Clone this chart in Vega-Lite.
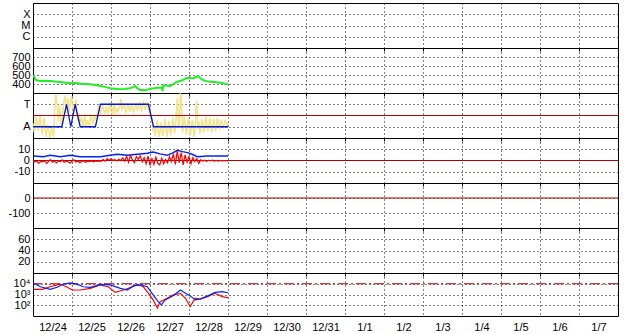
{
  "$schema": "https://vega.github.io/schema/vega-lite/v6.json",
  "padding": {"left": 7, "top": 2, "right": 0, "bottom": 0},
  "background": "white",
  "spacing": 0,
  "bounds": "flush",
  "config": {
    "font": "Liberation Sans",
    "view": {"stroke": "#000", "strokeWidth": 1},
    "axis": {
      "labelFont": "Liberation Sans", "labelFontSize": 11, "labelColor": "#000",
      "title": null, "domain": false, "ticks": false, "grid": true,
      "gridColor": "#000", "gridDash": [1, 3], "gridOpacity": 1, "gridWidth": 1,
      "labelOverlap": false, "labelPadding": 3, "labelBound": false, "labelFlush": false
    }
  },
  "resolve": {"scale": {"x": "independent", "y": "independent"}},
  "datasets": {
    "green": [
      {"t":0.01,"v":500},{"t":0.06,"v":448},{"t":0.12,"v":438},{"t":0.19,"v":433},{"t":0.3,"v":436},{"t":0.44,"v":433},{"t":0.55,"v":428},{"t":0.7,"v":422},{"t":0.85,"v":414},{"t":0.96,"v":408},{"t":1.1,"v":410},{"t":1.21,"v":403},{"t":1.35,"v":400},{"t":1.47,"v":396},{"t":1.6,"v":390},{"t":1.73,"v":378},{"t":1.85,"v":368},{"t":1.98,"v":352},{"t":2.1,"v":348},{"t":2.24,"v":341},{"t":2.35,"v":345},{"t":2.49,"v":352},{"t":2.58,"v":368},{"t":2.62,"v":378},{"t":2.68,"v":350},{"t":2.75,"v":333},{"t":2.88,"v":330},{"t":2.95,"v":340},{"t":3.0,"v":348},{"t":3.1,"v":352},{"t":3.19,"v":359},{"t":3.3,"v":362},{"t":3.32,"v":322},{"t":3.34,"v":385},{"t":3.45,"v":380},{"t":3.52,"v":378},{"t":3.6,"v":400},{"t":3.65,"v":415},{"t":3.75,"v":430},{"t":3.83,"v":441},{"t":3.9,"v":460},{"t":3.96,"v":470},{"t":4.05,"v":465},{"t":4.11,"v":463},{"t":4.18,"v":478},{"t":4.24,"v":489},{"t":4.3,"v":460},{"t":4.37,"v":441},{"t":4.45,"v":432},{"t":4.55,"v":426},{"t":4.7,"v":420},{"t":4.81,"v":415},{"t":4.9,"v":405},{"t":5.0,"v":396}
    ],
    "taBlue": [
      {"t":0,"v":1},{"t":0.74,"v":1},{"t":0.86,"v":3},{"t":0.97,"v":1},{"t":1.08,"v":3},{"t":1.21,"v":1},{"t":1.6,"v":1},{"t":1.73,"v":3},{"t":2.96,"v":3},{"t":3.09,"v":1},{"t":5.0,"v":1}
    ],
    "taYellow": [
      {"t":0.0,"v":1.3},{"t":0.03,"v":0.5},{"t":0.05,"v":0.9},{"t":0.08,"v":1.9},{"t":0.1,"v":1.6},{"t":0.13,"v":0.6},{"t":0.15,"v":1.1},{"t":0.18,"v":2.0},{"t":0.2,"v":1.4},{"t":0.23,"v":0.3},{"t":0.25,"v":0.7},{"t":0.28,"v":1.8},{"t":0.3,"v":1.2},{"t":0.33,"v":0.1},{"t":0.35,"v":0.4},{"t":0.38,"v":1.2},{"t":0.4,"v":0.8},{"t":0.43,"v":0.0},{"t":0.45,"v":0.2},{"t":0.48,"v":1.0},{"t":0.5,"v":0.6},{"t":0.53,"v":0.1},{"t":0.55,"v":1.9},{"t":0.58,"v":3.9},{"t":0.6,"v":3.6},{"t":0.63,"v":2.4},{"t":0.65,"v":1.5},{"t":0.68,"v":2.9},{"t":0.7,"v":2.1},{"t":0.73,"v":1.2},{"t":0.75,"v":1.6},{"t":0.78,"v":2.8},{"t":0.8,"v":3.3},{"t":0.83,"v":3.8},{"t":0.85,"v":2.6},{"t":0.88,"v":3.1},{"t":0.9,"v":3.5},{"t":0.93,"v":2.3},{"t":0.95,"v":2.8},{"t":0.98,"v":3.7},{"t":1.0,"v":3.2},{"t":1.03,"v":2.6},{"t":1.05,"v":2.2},{"t":1.08,"v":3.0},{"t":1.1,"v":3.4},{"t":1.13,"v":2.1},{"t":1.15,"v":1.5},{"t":1.18,"v":2.2},{"t":1.2,"v":1.2},{"t":1.23,"v":1.7},{"t":1.25,"v":1.8},{"t":1.28,"v":1.0},{"t":1.3,"v":1.4},{"t":1.33,"v":2.0},{"t":1.35,"v":0.9},{"t":1.38,"v":1.3},{"t":1.4,"v":1.6},{"t":1.43,"v":1.1},{"t":1.45,"v":1.3},{"t":1.48,"v":2.1},{"t":1.5,"v":1.9},{"t":1.53,"v":1.2},{"t":1.55,"v":1.4},{"t":1.58,"v":2.0},{"t":1.6,"v":1.7},{"t":1.63,"v":1.9},{"t":1.65,"v":2.3},{"t":1.68,"v":2.9},{"t":1.7,"v":2.6},{"t":1.73,"v":2.2},{"t":1.75,"v":2.4},{"t":1.78,"v":3.0},{"t":1.8,"v":2.7},{"t":1.83,"v":2.2},{"t":1.85,"v":2.3},{"t":1.88,"v":2.8},{"t":1.9,"v":2.5},{"t":1.93,"v":2.2},{"t":1.95,"v":2.8},{"t":1.98,"v":3.1},{"t":2.0,"v":2.4},{"t":2.03,"v":2.1},{"t":2.05,"v":2.6},{"t":2.08,"v":3.0},{"t":2.1,"v":2.2},{"t":2.13,"v":2.4},{"t":2.15,"v":2.7},{"t":2.18,"v":2.3},{"t":2.2,"v":2.5},{"t":2.23,"v":2.9},{"t":2.25,"v":3.5},{"t":2.28,"v":2.5},{"t":2.3,"v":2.6},{"t":2.33,"v":3.0},{"t":2.35,"v":2.8},{"t":2.38,"v":2.2},{"t":2.4,"v":2.4},{"t":2.43,"v":3.1},{"t":2.45,"v":2.9},{"t":2.48,"v":2.3},{"t":2.5,"v":2.6},{"t":2.53,"v":3.0},{"t":2.55,"v":2.7},{"t":2.58,"v":2.3},{"t":2.6,"v":2.5},{"t":2.63,"v":2.9},{"t":2.65,"v":3.0},{"t":2.68,"v":2.4},{"t":2.7,"v":2.7},{"t":2.73,"v":3.2},{"t":2.75,"v":2.9},{"t":2.78,"v":2.4},{"t":2.8,"v":2.6},{"t":2.83,"v":3.3},{"t":2.85,"v":3.1},{"t":2.88,"v":2.5},{"t":2.9,"v":2.7},{"t":2.93,"v":3.2},{"t":2.95,"v":2.9},{"t":2.98,"v":2.2},{"t":3.0,"v":2.5},{"t":3.03,"v":1.4},{"t":3.05,"v":1.8},{"t":3.08,"v":0.6},{"t":3.1,"v":1.0},{"t":3.13,"v":0.2},{"t":3.15,"v":0.5},{"t":3.18,"v":1.6},{"t":3.2,"v":1.2},{"t":3.23,"v":0.1},{"t":3.25,"v":0.3},{"t":3.28,"v":1.4},{"t":3.3,"v":0.9},{"t":3.33,"v":0.2},{"t":3.35,"v":0.6},{"t":3.38,"v":1.7},{"t":3.4,"v":1.3},{"t":3.43,"v":0.1},{"t":3.45,"v":0.4},{"t":3.48,"v":1.5},{"t":3.5,"v":1.0},{"t":3.53,"v":0.3},{"t":3.55,"v":0.7},{"t":3.58,"v":1.8},{"t":3.6,"v":1.4},{"t":3.63,"v":0.4},{"t":3.65,"v":0.8},{"t":3.68,"v":2.5},{"t":3.7,"v":3.6},{"t":3.73,"v":0.9},{"t":3.75,"v":1.2},{"t":3.78,"v":3.9},{"t":3.8,"v":3.8},{"t":3.83,"v":0.5},{"t":3.85,"v":0.9},{"t":3.88,"v":1.9},{"t":3.9,"v":1.5},{"t":3.93,"v":0.3},{"t":3.95,"v":0.8},{"t":3.98,"v":1.8},{"t":4.0,"v":1.3},{"t":4.03,"v":0.2},{"t":4.05,"v":0.6},{"t":4.08,"v":1.6},{"t":4.1,"v":1.1},{"t":4.13,"v":0.1},{"t":4.15,"v":0.4},{"t":4.18,"v":2.6},{"t":4.2,"v":3.3},{"t":4.23,"v":0.8},{"t":4.25,"v":1.5},{"t":4.28,"v":0.4},{"t":4.3,"v":0.7},{"t":4.33,"v":1.7},{"t":4.35,"v":1.2},{"t":4.38,"v":0.5},{"t":4.4,"v":0.9},{"t":4.43,"v":1.9},{"t":4.45,"v":1.6},{"t":4.48,"v":0.6},{"t":4.5,"v":1.0},{"t":4.53,"v":1.8},{"t":4.55,"v":1.4},{"t":4.58,"v":0.5},{"t":4.6,"v":0.8},{"t":4.63,"v":1.7},{"t":4.65,"v":1.3},{"t":4.68,"v":0.6},{"t":4.7,"v":1.0},{"t":4.73,"v":1.8},{"t":4.75,"v":1.5},{"t":4.78,"v":0.8},{"t":4.8,"v":1.1},{"t":4.83,"v":1.6},{"t":4.85,"v":1.3},{"t":4.88,"v":1.0},{"t":4.9,"v":1.2},{"t":4.93,"v":1.6},{"t":4.95,"v":1.4},{"t":4.98,"v":1.1},{"t":5.0,"v":1.3}
    ],
    "bBlue": [
      {"t":0.015,"v":4.0},{"t":0.26,"v":3.4},{"t":0.44,"v":4.6},{"t":0.7,"v":3.4},{"t":0.96,"v":4.6},{"t":1.21,"v":3.4},{"t":1.47,"v":3.4},{"t":1.73,"v":3.4},{"t":1.98,"v":4.6},{"t":2.16,"v":5.5},{"t":2.42,"v":4.6},{"t":2.67,"v":5.5},{"t":2.93,"v":6.4},{"t":3.08,"v":7.5},{"t":3.26,"v":5.9},{"t":3.44,"v":4.6},{"t":3.6,"v":7.0},{"t":3.7,"v":9.0},{"t":3.83,"v":7.9},{"t":3.96,"v":7.0},{"t":4.08,"v":5.5},{"t":4.21,"v":3.4},{"t":4.47,"v":4.0},{"t":4.73,"v":4.0},{"t":5.0,"v":4.0}
    ],
    "bRed": [
      {"t":0.0,"v":-0.5},{"t":0.05,"v":-1.2},{"t":0.1,"v":-0.6},{"t":0.15,"v":-2.3},{"t":0.2,"v":-0.8},{"t":0.25,"v":-1.0},{"t":0.3,"v":-0.4},{"t":0.35,"v":-2.6},{"t":0.4,"v":-0.7},{"t":0.45,"v":0.8},{"t":0.5,"v":-1.5},{"t":0.55,"v":-0.6},{"t":0.6,"v":-2.2},{"t":0.65,"v":-0.3},{"t":0.7,"v":-1.0},{"t":0.75,"v":0.5},{"t":0.8,"v":-1.8},{"t":0.85,"v":-0.5},{"t":0.9,"v":-1.1},{"t":0.95,"v":-2.4},{"t":1.0,"v":-0.6},{"t":1.05,"v":0.6},{"t":1.1,"v":-1.3},{"t":1.15,"v":-0.5},{"t":1.2,"v":-2.0},{"t":1.25,"v":-0.8},{"t":1.3,"v":-0.4},{"t":1.35,"v":-1.6},{"t":1.4,"v":-0.6},{"t":1.45,"v":-0.9},{"t":1.5,"v":-0.3},{"t":1.55,"v":-1.2},{"t":1.6,"v":-0.5},{"t":1.65,"v":-0.8},{"t":1.7,"v":-0.4},{"t":1.75,"v":-0.7},{"t":1.8,"v":0.9},{"t":1.85,"v":-0.5},{"t":1.9,"v":1.6},{"t":1.95,"v":0.2},{"t":2.0,"v":1.4},{"t":2.05,"v":0.3},{"t":2.1,"v":0.8},{"t":2.15,"v":-0.4},{"t":2.2,"v":1.2},{"t":2.25,"v":0.1},{"t":2.3,"v":2.4},{"t":2.35,"v":-0.6},{"t":2.4,"v":3.8},{"t":2.45,"v":-1.5},{"t":2.5,"v":4.6},{"t":2.55,"v":0.5},{"t":2.6,"v":-2.0},{"t":2.65,"v":3.4},{"t":2.7,"v":1.0},{"t":2.75,"v":4.2},{"t":2.8,"v":-1.2},{"t":2.85,"v":2.5},{"t":2.9,"v":-3.0},{"t":2.95,"v":4.0},{"t":3.0,"v":-4.3},{"t":3.05,"v":1.5},{"t":3.1,"v":-3.5},{"t":3.15,"v":3.0},{"t":3.2,"v":-2.5},{"t":3.25,"v":-4.0},{"t":3.3,"v":2.0},{"t":3.35,"v":-3.0},{"t":3.4,"v":0.8},{"t":3.45,"v":-2.0},{"t":3.5,"v":3.5},{"t":3.55,"v":-1.0},{"t":3.6,"v":6.0},{"t":3.65,"v":-3.5},{"t":3.7,"v":8.5},{"t":3.75,"v":-2.0},{"t":3.8,"v":7.0},{"t":3.85,"v":-4.0},{"t":3.9,"v":5.0},{"t":3.95,"v":-1.5},{"t":4.0,"v":3.5},{"t":4.05,"v":-3.0},{"t":4.1,"v":2.5},{"t":4.15,"v":-1.0},{"t":4.2,"v":1.5},{"t":4.25,"v":-2.5},{"t":4.3,"v":0.5},{"t":4.35,"v":-0.5},{"t":4.4,"v":0.3},{"t":4.45,"v":-0.8},{"t":4.5,"v":0.2},{"t":4.55,"v":-0.3},{"t":4.6,"v":0.4},{"t":4.65,"v":-0.5},{"t":4.7,"v":0.1},{"t":4.75,"v":-0.6},{"t":4.8,"v":0.2},{"t":4.85,"v":-0.4},{"t":4.9,"v":0.0},{"t":4.95,"v":-0.3},{"t":5.0,"v":-0.2}
    ],
    "logBlue": [
      {"t":0.015,"v":10965},{"t":0.19,"v":5248},{"t":0.44,"v":3020},{"t":0.62,"v":4677},{"t":0.78,"v":9333},{"t":0.96,"v":12303},{"t":1.14,"v":8710},{"t":1.29,"v":5248},{"t":1.47,"v":4677},{"t":1.73,"v":8710},{"t":1.98,"v":7943},{"t":2.24,"v":3715},{"t":2.42,"v":2630},{"t":2.57,"v":6310},{"t":2.75,"v":7943},{"t":2.93,"v":5248},{"t":3.08,"v":912},{"t":3.21,"v":219},{"t":3.29,"v":110},{"t":3.39,"v":316},{"t":3.6,"v":794},{"t":3.78,"v":2630},{"t":3.91,"v":1288},{"t":4.03,"v":741},{"t":4.16,"v":316},{"t":4.29,"v":398},{"t":4.47,"v":708},{"t":4.67,"v":1585},{"t":4.85,"v":1820},{"t":5.0,"v":1445}
    ],
    "logRed": [
      {"t":0.015,"v":3020},{"t":0.24,"v":3020},{"t":0.44,"v":5248},{"t":0.7,"v":9333},{"t":0.88,"v":4677},{"t":1.01,"v":2630},{"t":1.21,"v":2630},{"t":1.47,"v":3715},{"t":1.73,"v":7586},{"t":1.93,"v":5248},{"t":2.11,"v":1585},{"t":2.32,"v":2630},{"t":2.55,"v":5248},{"t":2.68,"v":8710},{"t":2.83,"v":5248},{"t":2.96,"v":1288},{"t":3.08,"v":316},{"t":3.19,"v":54},{"t":3.26,"v":219},{"t":3.39,"v":363},{"t":3.6,"v":912},{"t":3.78,"v":1288},{"t":3.91,"v":447},{"t":4.03,"v":76},{"t":4.16,"v":447},{"t":4.29,"v":363},{"t":4.47,"v":631},{"t":4.67,"v":1288},{"t":4.85,"v":631},{"t":5.0,"v":501}
    ]
  },
  "vconcat": [
    {
      "width": 585, "height": 45,
      "data": {"values": []},
      "mark": {"type": "point", "opacity": 0},
      "encoding": {
        "x": {"field": "t", "type": "quantitative", "scale": {"domain": [0, 15], "nice": false, "zero": false}, "axis": {"values": [0,1,2,3,4,5,6,7,8,9,10,11,12,13,14], "labels": false, "ticks": true, "tickSize": 3, "tickColor": "#000"}},
        "y": {"field": "v", "type": "quantitative", "scale": {"domain": [0, 4], "nice": false, "zero": false}, "axis": {"values": [1, 2, 3], "labelOverlap": false, "labelExpr": "datum.value == 3 ? 'X' : datum.value == 2 ? 'M' : 'C'"}}
      }
    },
    {
      "width": 585, "height": 45,
      "data": {"name": "green"},
      "mark": {"type": "line", "color": "#22ee22", "strokeWidth": 2, "clip": true},
      "encoding": {
        "x": {"field": "t", "type": "quantitative", "scale": {"domain": [0, 15], "nice": false, "zero": false}, "axis": {"values": [0,1,2,3,4,5,6,7,8,9,10,11,12,13,14], "labels": false, "ticks": true, "tickSize": 3, "tickColor": "#000"}},
        "y": {"field": "v", "type": "quantitative", "scale": {"domain": [300, 800], "nice": false, "zero": false}, "axis": {"values": [400, 500, 600, 700], "labelOverlap": false}}
      }
    },
    {
      "width": 585, "height": 45,
      "layer": [
        {
          "data": {"name": "taYellow"},
          "mark": {"type": "line", "color": "#f3e38a", "strokeWidth": 1.5, "clip": true},
          "encoding": {
            "x": {"field": "t", "type": "quantitative", "scale": {"domain": [0, 15], "nice": false, "zero": false}, "axis": {"values": [0,1,2,3,4,5,6,7,8,9,10,11,12,13,14], "labels": false, "ticks": true, "tickSize": 3, "tickColor": "#000"}},
            "y": {"field": "v", "type": "quantitative", "scale": {"domain": [0, 4], "nice": false, "zero": false}, "axis": {"values": [1, 3], "labelOverlap": false, "labelExpr": "datum.value == 3 ? 'T' : 'A'"}}
          }
        },
        {
          "data": {"values": [{"v": 2}]},
          "mark": {"type": "rule", "color": "#c00000", "strokeWidth": 1},
          "encoding": {"y": {"field": "v", "type": "quantitative"}}
        },
        {
          "data": {"name": "taBlue"},
          "mark": {"type": "line", "color": "#0018d8", "strokeWidth": 1.3, "clip": true},
          "encoding": {
            "x": {"field": "t", "type": "quantitative"},
            "y": {"field": "v", "type": "quantitative"}
          }
        }
      ]
    },
    {
      "width": 585, "height": 45,
      "layer": [
        {
          "data": {"values": [{"t": -0.08, "v": 0, "label": "0"}]},
          "mark": {"type": "text", "align": "right", "baseline": "middle", "font": "Liberation Sans", "fontSize": 11, "color": "#000", "clip": false},
          "encoding": {
            "x": {"field": "t", "type": "quantitative", "scale": {"domain": [0, 15], "nice": false, "zero": false}, "axis": {"values": [0,1,2,3,4,5,6,7,8,9,10,11,12,13,14], "labels": false, "ticks": true, "tickSize": 3, "tickColor": "#000"}},
            "y": {"field": "v", "type": "quantitative", "scale": {"domain": [-20, 20], "nice": false, "zero": false}, "axis": {"values": [-10, 10], "labelOverlap": false, "labelExpr": "datum.value > 0 ? '10' : '-10'"}},
            "text": {"field": "label", "type": "nominal"}
          }
        },
        {
          "data": {"values": [{"v": 0}]},
          "mark": {"type": "rule", "color": "#b00000", "strokeWidth": 1},
          "encoding": {"y": {"field": "v", "type": "quantitative"}}
        },
        {
          "data": {"name": "bBlue"},
          "mark": {"type": "line", "color": "#0022ff", "strokeWidth": 1.5, "clip": true},
          "encoding": {
            "x": {"field": "t", "type": "quantitative"},
            "y": {"field": "v", "type": "quantitative"}
          }
        },
        {
          "data": {"name": "bRed"},
          "mark": {"type": "line", "color": "#ff0000", "strokeWidth": 1.2, "clip": true},
          "encoding": {
            "x": {"field": "t", "type": "quantitative"},
            "y": {"field": "v", "type": "quantitative"}
          }
        }
      ]
    },
    {
      "width": 585, "height": 45,
      "layer": [
        {
          "data": {"values": []},
          "mark": {"type": "point", "opacity": 0},
          "encoding": {
            "x": {"field": "t", "type": "quantitative", "scale": {"domain": [0, 15], "nice": false, "zero": false}, "axis": {"values": [0,1,2,3,4,5,6,7,8,9,10,11,12,13,14], "labels": false, "ticks": true, "tickSize": 3, "tickColor": "#000"}},
            "y": {"field": "v", "type": "quantitative", "scale": {"domain": [-200, 100], "nice": false, "zero": false}, "axis": {"values": [-100, 0], "labelOverlap": false, "labelExpr": "datum.value < -50 ? '-100' : '0'"}}
          }
        },
        {
          "data": {"values": [{"v": 0}]},
          "mark": {"type": "rule", "color": "#b00000", "strokeWidth": 1},
          "encoding": {"y": {"field": "v", "type": "quantitative"}}
        }
      ]
    },
    {
      "width": 585, "height": 45,
      "data": {"values": []},
      "mark": {"type": "point", "opacity": 0},
      "encoding": {
        "x": {"field": "t", "type": "quantitative", "scale": {"domain": [0, 15], "nice": false, "zero": false}, "axis": {"values": [0,1,2,3,4,5,6,7,8,9,10,11,12,13,14], "labels": false, "ticks": true, "tickSize": 3, "tickColor": "#000"}},
        "y": {"field": "v", "type": "quantitative", "scale": {"domain": [0, 80], "nice": false, "zero": false}, "axis": {"values": [20, 40, 60], "labelOverlap": false}}
      }
    },
    {
      "width": 585, "height": 43,
      "layer": [
        {
          "data": {"name": "logRed"},
          "mark": {"type": "line", "color": "#ff0000", "strokeWidth": 1.2, "clip": true},
          "encoding": {
            "x": {"field": "t", "type": "quantitative", "scale": {"domain": [0, 15], "nice": false, "zero": false}, "axis": {"values": [0,1,2,3,4,5,6,7,8,9,10,11,12,13,14], "labelOverlap": false, "labelExpr": "['12/24','12/25','12/26','12/27','12/28','12/29','12/30','12/31','1/1','1/2','1/3','1/4','1/5','1/6','1/7'][datum.value]", "labelOffset": 19.5, "labelPadding": 5, "labelAlign": "center"}},
            "y": {"field": "v", "type": "quantitative", "scale": {"type": "log", "domain": [10, 100000], "nice": false}, "axis": {"values": [100, 1000, 10000], "labelOverlap": false, "labelExpr": "datum.value == 100 ? '10²' : datum.value == 1000 ? '10³' : '10⁴'"}}
          }
        },
        {
          "data": {"values": [{"v": 10000}]},
          "mark": {"type": "rule", "color": "#b00000", "strokeWidth": 1, "strokeDash": [10, 3, 2, 3]},
          "encoding": {"y": {"field": "v", "type": "quantitative"}}
        },
        {
          "data": {"name": "logBlue"},
          "mark": {"type": "line", "color": "#0022ff", "strokeWidth": 1.2, "clip": true},
          "encoding": {
            "x": {"field": "t", "type": "quantitative"},
            "y": {"field": "v", "type": "quantitative"}
          }
        }
      ]
    }
  ]
}
